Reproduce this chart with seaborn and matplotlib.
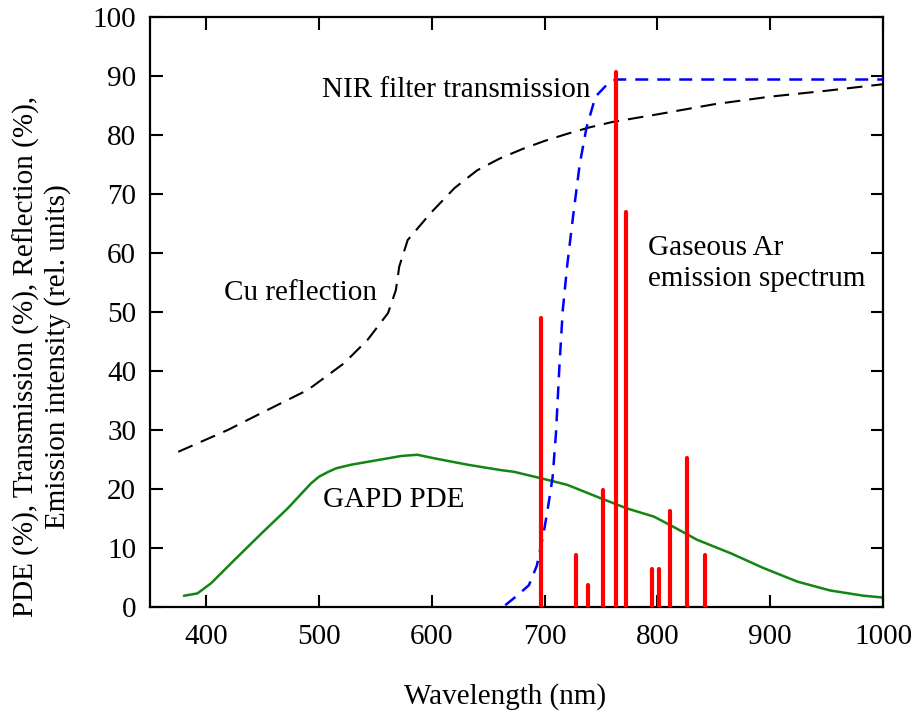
import matplotlib
matplotlib.use("Agg")
import matplotlib.pyplot as plt
import seaborn as sns
import pandas as pd

# ---- data ----
pde_wl = [380, 392, 404, 425, 449, 472, 493, 500, 508, 515, 528, 552, 573, 587, 602, 632, 661,
          673, 697, 720, 750, 773, 797, 814, 835, 865, 894, 924, 953, 983, 1000]
pde_val = [1.9, 2.3, 4.0, 8.0, 12.5, 16.7, 21.0, 22.1, 22.9, 23.5, 24.1, 24.9, 25.6, 25.8, 25.2,
           24.1, 23.2, 22.9, 21.8, 20.7, 18.4, 16.7, 15.3, 13.6, 11.4, 9.1, 6.6, 4.3, 2.8, 1.9, 1.6]

cu_wl = [375, 419, 449, 490, 522, 543, 561, 568, 571, 578.5, 599, 620, 640, 660, 680,
         700, 720, 740, 760, 800, 850, 900, 950, 1000]
cu_val = [26.3, 30, 32.9, 36.8, 41.3, 45.3, 49.8, 53.7, 57.7, 62.2, 66.8, 71, 74, 76, 77.6,
          79, 80.2, 81.3, 82.2, 83.5, 85.2, 86.5, 87.5, 88.6]

nir_wl = [665, 676, 686, 693, 699, 703, 707, 710, 713, 716, 720, 725, 731, 737, 745, 755, 763, 1000]
nir_val = [0.3, 2, 3.7, 7, 12.5, 17, 22, 29.5, 40.7, 50.3, 58, 66, 75, 81.2, 86.5, 88.5, 89.4, 89.4]

ar_wl = [696.5, 727.3, 738.4, 752.0, 763.5, 772.4, 794.8, 801.5, 811.5, 826.5, 842.5]
ar_int = [49, 8.8, 3.8, 19.8, 90.7, 67, 6.4, 6.4, 16.3, 25.3, 8.8]

x_ticks = [400, 500, 600, 700, 800, 900, 1000]
y_ticks = [0, 10, 20, 30, 40, 50, 60, 70, 80, 90, 100]

sns.set_theme(style="ticks")
plt.rcParams['font.family'] = ['Liberation Serif', 'DejaVu Serif']
plt.rcParams['text.color'] = 'black'
plt.rcParams['axes.labelcolor'] = 'black'
plt.rcParams['xtick.color'] = 'black'
plt.rcParams['ytick.color'] = 'black'
plt.rcParams['axes.edgecolor'] = 'black'

fig = plt.figure(figsize=(9.16, 7.13), dpi=100)
ax = fig.add_axes([0.1638, 0.1487, 0.964 - 0.1638, 0.9762 - 0.1487])

pde_df = pd.DataFrame({"wl": pde_wl, "v": pde_val})
cu_df = pd.DataFrame({"wl": cu_wl, "v": cu_val})
nir_df = pd.DataFrame({"wl": nir_wl, "v": nir_val})

sns.lineplot(data=pde_df, x="wl", y="v", ax=ax, color="#128512", linewidth=1.8, zorder=2)
sns.lineplot(data=cu_df, x="wl", y="v", ax=ax, color="black", linewidth=1.5,
             linestyle=(0, (7.5, 4.3)), zorder=2)
sns.lineplot(data=nir_df, x="wl", y="v", ax=ax, color="#0000ff", linewidth=1.8,
             linestyle=(0, (5.2, 3.6)), zorder=3)
vl = ax.vlines(ar_wl, 0, ar_int, colors="#ff0000", linewidth=3.0, zorder=4)
vl.set_capstyle("round")

ax.set_xlim(350, 1000)
ax.set_ylim(0, 100)
ax.set_xticks(x_ticks)
ax.set_yticks(y_ticks)
ax.tick_params(direction="in", length=9, width=1.5, labelsize=21, top=True, right=True,
               labeltop=False, labelright=False, colors="black")
ax.tick_params(axis="x", pad=12)
ax.tick_params(axis="y", pad=10)
for s in ax.spines.values():
    s.set_linewidth(1.6)
    s.set_color("black")
    s.set_visible(True)

ax.set_xlabel("Wavelength (nm)", fontsize=21, labelpad=24, color="black")
ax.xaxis.label.set_x(0.485)
ax.set_ylabel("PDE (%), Transmission (%), Reflection (%),\nEmission intensity (rel. units)",
              fontsize=21, linespacing=1.2, color="black")
ax.yaxis.set_label_coords(-0.108, 0.425)

ax.text(502.7, 87.6, "NIR filter transmission", fontsize=21, ha="left", va="center")
ax.text(415.3, 53.2, "Cu reflection", fontsize=21, ha="left", va="center")
ax.text(792, 58.3, "Gaseous Ar\nemission spectrum", fontsize=21, ha="left", va="center",
        linespacing=1.25)
ax.text(503.3, 18.1, "GAPD PDE", fontsize=21, ha="left", va="center")

fig.savefig("out.png", dpi=100)
